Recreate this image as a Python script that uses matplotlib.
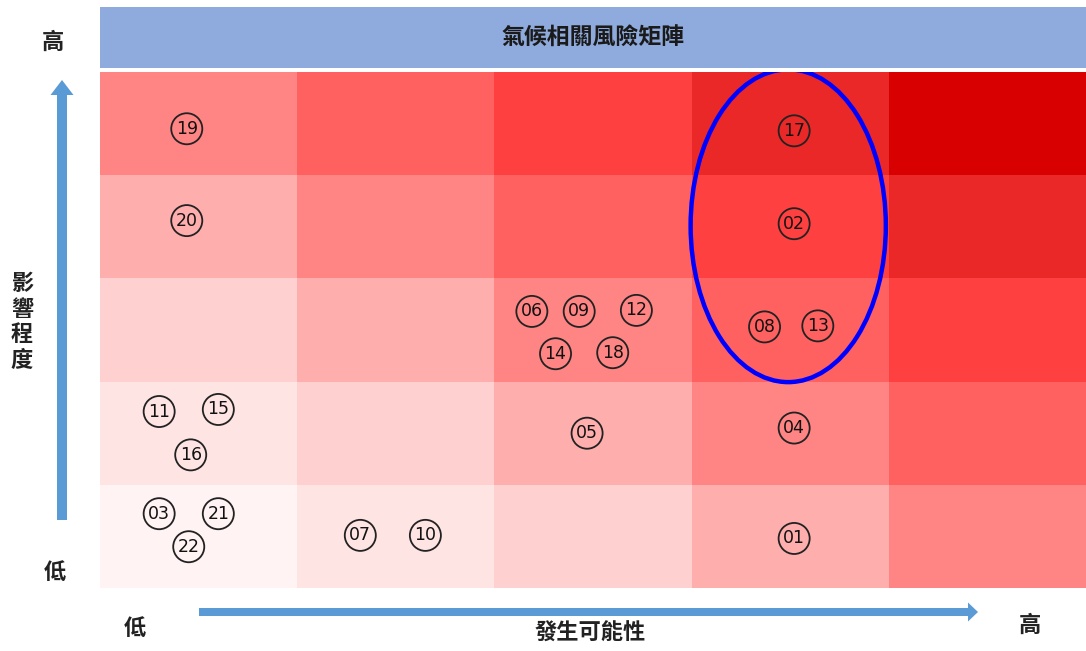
import matplotlib.pyplot as plt
from matplotlib.patches import Rectangle, Ellipse, FancyArrow
import numpy as np

plt.rcParams['font.family'] = ['Noto Sans CJK TC', 'DejaVu Sans']

# risk level colours, index = likelihood + impact
level_colors = ['#fff3f3', '#ffe4e4', '#ffd0d0', '#ffaeae', '#ff8585',
                '#ff6161', '#ff4040', '#ea2828', '#d80000']

risk_ids = ['19', '20', '17', '02', '06', '09', '12', '14', '18', '08', '13',
            '11', '15', '16', '05', '04', '03', '21', '22', '07', '10', '01']
likelihood = [0.44, 0.44, 3.52, 3.52, 2.19, 2.43, 2.72, 2.31, 2.60, 3.37, 3.64,
              0.30, 0.60, 0.46, 2.47, 3.52, 0.30, 0.60, 0.45, 1.32, 1.65, 3.52]
impact = [4.45, 3.56, 4.43, 3.53, 2.68, 2.68, 2.69, 2.27, 2.28, 2.53, 2.54,
          1.71, 1.73, 1.29, 1.50, 1.55, 0.72, 0.72, 0.40, 0.51, 0.51, 0.48]

W, H = 1086, 651
fig = plt.figure(figsize=(W / 100, H / 100), dpi=100)

# background axes in pixel coords for decorations
bg = fig.add_axes([0, 0, 1, 1])
bg.set_xlim(0, W)
bg.set_ylim(H, 0)
bg.axis('off')

# title bar
bg.add_patch(Rectangle((100, 7), 986, 61, color='#8faadc', lw=0))
bg.text(593, 38, '氣候相關風險矩陣', ha='center', va='center', fontsize=16.5,
        fontweight='bold', color='#1a1a1a')

# axis arrows
bg.add_patch(FancyArrow(62, 520, 0, -440, width=10, head_width=23, head_length=15,
                        length_includes_head=True, color='#5b9bd5', lw=0))
bg.add_patch(FancyArrow(199, 612, 779, 0, width=8, head_width=19, head_length=10,
                        length_includes_head=True, color='#5b9bd5', lw=0))

lab = dict(ha='center', va='center', fontsize=16, fontweight='bold', color='#222222')
bg.text(53, 42, '高', **lab)
bg.text(55, 572, '低', **lab)
bg.text(135, 628, '低', **lab)
bg.text(1030, 625, '高', **lab)
bg.text(590, 633, '發生可能性', **lab)
bg.text(22, 322, '影\n響\n程\n度', linespacing=1.15, **lab)

# matrix axes
ax = fig.add_axes([100 / W, (H - 588) / H, 986 / W, 516 / H])
ax.set_xlim(0, 5)
ax.set_ylim(0, 5)
ax.axis('off')
for i in range(5):
    for j in range(5):
        ax.add_patch(Rectangle((i, j), 1, 1, color=level_colors[i + j], lw=0))

ax.scatter(likelihood, impact, s=500, facecolor='none', edgecolor='#222222', linewidth=1.3, zorder=3)
for rid, x, y in zip(risk_ids, likelihood, impact):
    ax.text(x, y, rid, ha='center', va='center', fontsize=12.5, color='#111111',
            family='DejaVu Sans', zorder=4)

ax.add_patch(Ellipse((3.49, 3.51), 0.99, 3.03, fill=False, edgecolor='#0000ff', lw=3.2, zorder=5))

fig.savefig('out.png', dpi=100)
